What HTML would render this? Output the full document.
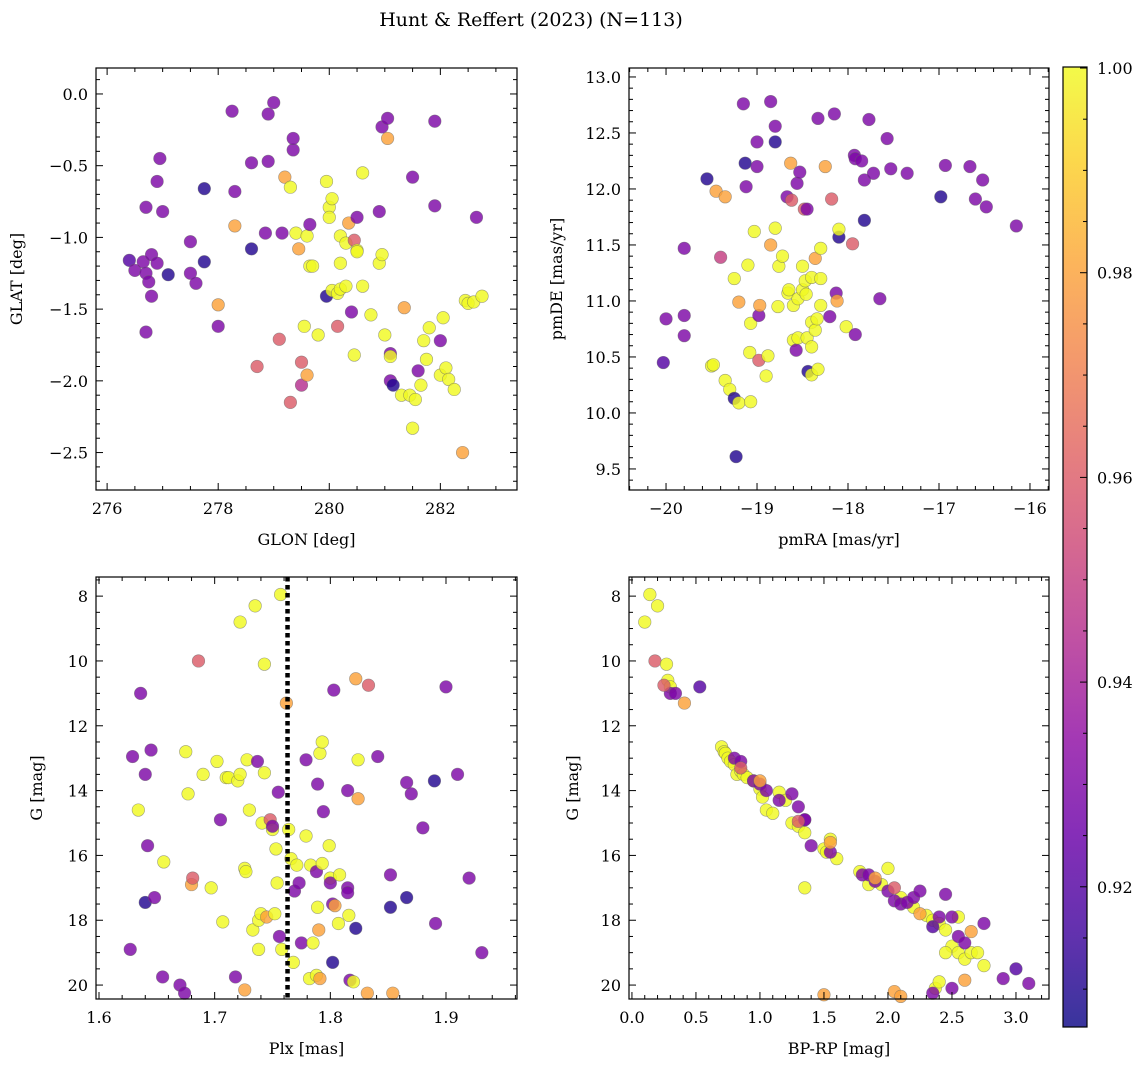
<!DOCTYPE html>
<html><head><meta charset="utf-8">
<style>
html,body{margin:0;padding:0;background:#fff;}
svg text{font-family:"DejaVu Serif","Liberation Serif",serif;fill:#000;}
</style></head>
<body>
<svg id="fig" width="1148" height="1067" viewBox="0 0 1148 1067" xmlns="http://www.w3.org/2000/svg">
<defs>
<linearGradient id="plasma" x1="0" y1="1" x2="0" y2="0">
<stop offset="0" stop-color="#0d0887"/><stop offset="0.1" stop-color="#41049d"/><stop offset="0.2" stop-color="#6a00a8"/><stop offset="0.3" stop-color="#8f0da4"/><stop offset="0.4" stop-color="#b12a90"/><stop offset="0.5" stop-color="#cc4778"/><stop offset="0.6" stop-color="#e16462"/><stop offset="0.7" stop-color="#f2844b"/><stop offset="0.8" stop-color="#fca636"/><stop offset="0.9" stop-color="#fcce25"/><stop offset="1" stop-color="#f0f921"/>
</linearGradient>
</defs>
<text x="531" y="26" font-size="19" text-anchor="middle">Hunt &amp; Reffert (2023) (N=113)</text>
</svg>
<script>
// ---- data ----
const glon=[276.4,276.5,276.65,276.7,276.7,276.75,276.8,276.7,276.8,276.9,276.9,276.95,277.0,277.1,277.5,277.5,277.6,277.75,277.75,278.0,278.0,278.25,278.3,278.3,278.6,278.6,278.7,278.9,278.85,278.9,279.0,279.1,279.2,279.15,279.3,279.3,279.35,279.35,279.4,279.45,279.5,279.5,279.55,279.6,279.6,279.65,279.65,279.7,279.8,279.95,280.0,280.05,279.95,280.05,280.0,280.15,280.2,280.15,280.3,280.2,280.3,280.2,280.35,280.4,280.45,280.5,280.45,280.5,280.5,280.6,280.6,280.75,280.9,280.9,280.95,280.95,281.05,281.05,281.0,281.1,281.1,281.1,281.15,281.3,281.35,281.45,281.5,281.5,281.55,281.6,281.65,281.7,281.8,281.75,281.9,281.9,282.0,282.0,282.05,282.1,282.15,282.25,282.4,282.45,282.5,282.6,282.65,282.75];
const glat=[-1.16,-1.23,-1.17,-0.79,-1.25,-1.31,-1.41,-1.66,-1.12,-1.18,-0.61,-0.45,-0.82,-1.26,-1.03,-1.25,-1.32,-1.17,-0.66,-1.47,-1.62,-0.12,-0.68,-0.92,-0.48,-1.08,-1.90,-0.47,-0.97,-0.14,-0.06,-1.71,-0.58,-0.97,-0.65,-2.15,-0.39,-0.31,-0.97,-1.08,-2.03,-1.87,-1.62,-0.99,-1.96,-1.20,-0.91,-1.20,-1.68,-0.61,-0.79,-0.73,-1.41,-1.37,-0.86,-1.39,-1.36,-1.62,-1.34,-0.99,-1.04,-1.18,-0.90,-1.52,-1.02,-1.09,-1.82,-0.86,-1.10,-0.55,-1.34,-1.54,-1.18,-0.82,-1.12,-0.23,-0.17,-0.31,-1.68,-1.81,-1.83,-2.00,-2.03,-2.10,-1.49,-2.10,-0.58,-2.33,-2.13,-1.93,-2.03,-1.72,-1.63,-1.85,-0.78,-0.19,-1.96,-1.72,-1.56,-1.91,-1.99,-2.06,-2.50,-1.44,-1.46,-1.45,-0.86,-1.41];
const probA=[0.92,0.93,0.93,0.93,0.93,0.93,0.93,0.93,0.93,0.93,0.93,0.93,0.93,0.91,0.93,0.93,0.93,0.91,0.91,0.98,0.93,0.93,0.93,0.98,0.93,0.91,0.96,0.93,0.93,0.93,0.93,0.96,0.98,0.93,1,0.96,0.93,0.93,1,0.98,0.945,0.96,1,1,0.98,1,0.93,1,1,1,1,1,0.91,1,1,1,1,0.96,1,1,1,1,0.98,0.93,0.96,1,1,0.93,1,1,1,1,1,0.93,1,0.93,0.93,0.98,1,0.93,1,0.93,0.91,1,0.98,1,0.93,1,1,0.93,1,1,1,1,0.93,0.93,1,0.93,1,1,1,1,0.98,1,1,1,0.93,1];

const pmra=[-20.03,-20.0,-19.8,-19.8,-19.8,-19.55,-19.45,-19.4,-19.35,-19.5,-19.48,-19.35,-19.3,-19.25,-19.25,-19.2,-19.23,-19.2,-19.15,-19.13,-19.12,-19.1,-19.07,-19.08,-19.07,-19.03,-19.0,-19.0,-18.98,-18.98,-18.97,-18.9,-18.88,-18.85,-18.85,-18.8,-18.8,-18.8,-18.77,-18.76,-18.72,-18.67,-18.66,-18.65,-18.63,-18.62,-18.6,-18.6,-18.57,-18.56,-18.55,-18.55,-18.53,-18.5,-18.5,-18.48,-18.47,-18.45,-18.45,-18.46,-18.4,-18.4,-18.4,-18.44,-18.4,-18.36,-18.36,-18.34,-18.33,-18.33,-18.3,-18.3,-18.3,-18.25,-18.2,-18.18,-18.15,-18.13,-18.12,-18.1,-18.1,-18.02,-17.95,-17.93,-17.92,-17.92,-17.85,-17.82,-17.82,-17.77,-17.72,-17.65,-17.57,-17.53,-17.35,-16.98,-16.93,-16.66,-16.6,-16.52,-16.48,-16.15];
const pmde=[10.45,10.84,10.69,11.47,10.87,12.09,11.98,11.39,11.93,10.42,10.43,10.29,10.21,11.2,10.13,10.99,9.61,10.09,12.76,12.23,12.02,11.32,10.8,10.54,10.1,11.62,12.42,12.2,10.47,10.87,10.96,10.33,10.51,12.78,11.5,12.42,11.65,12.56,10.95,11.31,11.4,11.93,11.07,11.1,12.23,11.9,10.65,10.96,10.56,12.05,10.67,11.02,12.15,11.31,11.1,11.82,11.18,11.82,10.67,11.06,11.21,10.81,10.59,10.37,10.34,10.74,11.38,10.84,10.39,12.63,11.47,11.2,10.96,12.2,10.86,11.91,12.67,11.07,11.0,11.57,11.64,10.77,11.51,12.3,12.27,10.7,12.25,12.08,11.72,12.62,12.14,11.02,12.45,12.18,12.14,11.93,12.21,12.2,11.91,12.08,11.84,11.67];
const probB=[0.92,0.93,0.93,0.93,0.93,0.91,0.98,0.95,0.98,1,1,1,1,1,0.91,0.98,0.91,1,0.93,0.91,0.93,1,1,1,1,1,0.93,0.93,0.96,0.93,0.98,1,1,0.93,0.98,0.91,1,0.93,1,1,1,0.93,1,1,0.98,0.96,1,1,0.93,0.93,1,1,0.93,1,1,0.96,1,0.93,1,1,1,1,1,0.91,1,1,0.98,1,1,0.93,1,1,1,0.98,0.93,0.96,0.93,0.93,0.98,0.91,1,1,0.96,0.93,0.93,0.93,0.93,0.93,0.91,0.93,0.93,0.93,0.93,0.93,0.93,0.91,0.93,0.93,0.93,0.93,0.93,0.93];

const plx=[1.627,1.629,1.636,1.634,1.640,1.642,1.645,1.640,1.648,1.655,1.656,1.670,1.674,1.675,1.677,1.680,1.681,1.686,1.690,1.697,1.702,1.705,1.707,1.710,1.712,1.718,1.720,1.722,1.722,1.726,1.726,1.727,1.728,1.730,1.733,1.735,1.737,1.738,1.738,1.740,1.741,1.743,1.743,1.745,1.748,1.750,1.750,1.752,1.753,1.754,1.755,1.756,1.757,1.758,1.762,1.764,1.766,1.768,1.769,1.771,1.773,1.775,1.779,1.779,1.782,1.783,1.785,1.788,1.788,1.789,1.789,1.791,1.790,1.791,1.793,1.793,1.794,1.799,1.800,1.800,1.802,1.802,1.803,1.804,1.807,1.808,1.815,1.815,1.815,1.816,1.817,1.820,1.822,1.822,1.824,1.824,1.833,1.832,1.841,1.852,1.852,1.854,1.866,1.866,1.870,1.880,1.890,1.891,1.900,1.910,1.920,1.931];
const gmagC=[18.9,12.95,11.0,14.6,13.5,15.7,12.75,17.45,17.3,19.75,16.2,20.0,20.25,12.8,14.1,16.9,16.7,10.0,13.5,17.0,13.1,14.9,18.05,13.6,13.6,19.75,13.7,13.5,8.8,20.15,16.4,16.5,13.05,14.6,18.3,8.3,13.1,18.9,18.0,17.8,15.0,10.1,13.45,17.9,14.9,15.2,15.1,17.8,15.8,16.85,14.05,18.5,7.95,18.9,11.3,15.2,16.1,19.3,17.1,16.3,16.85,18.7,13.05,15.4,19.8,16.3,18.7,19.7,16.5,17.6,13.8,19.8,18.3,12.85,12.5,16.25,14.65,15.7,16.7,16.85,19.3,17.5,10.9,17.55,18.1,16.6,14.0,17.0,17.15,17.85,19.85,19.9,18.25,10.55,13.05,14.25,10.75,20.25,12.95,17.6,16.6,20.25,13.75,17.3,14.1,15.15,13.7,18.1,10.8,13.5,16.7,19.0];
const probC=[0.93,0.93,0.93,1,0.93,0.93,0.93,0.91,0.93,0.93,1,0.93,0.93,1,1,0.98,0.96,0.96,1,1,1,0.93,1,1,1,0.93,1,1,1,0.98,1,1,1,1,1,1,0.93,1,1,1,1,1,1,0.98,0.96,1,0.93,1,1,1,0.93,0.93,1,1,0.98,1,1,1,0.93,1,0.93,0.93,0.93,1,1,1,1,1,0.93,1,0.93,0.98,0.98,1,1,1,0.93,1,1,0.93,0.91,0.93,0.93,0.98,1,1,0.93,0.93,0.93,1,0.93,1,0.91,0.98,1,0.98,0.96,0.98,0.93,0.91,0.93,0.98,0.93,0.91,0.93,0.93,0.91,0.93,0.93,0.93,0.93,0.93];

const bprp=[0.1,0.14,0.2,0.18,0.27,0.28,0.3,0.3,0.34,0.41,0.53,0.7,0.72,0.73,0.75,0.77,0.8,0.82,0.85,0.87,0.9,0.95,1.0,1.02,1.05,1.1,1.15,1.2,1.25,1.3,1.35,1.5,1.52,1.55,1.6,1.78,1.85,1.95,2.0,2.1,2.2,2.3,2.35,2.4,2.45,2.5,2.55,2.6,2.65,2.7,2.75,2.55,2.45,1.35,2.6,2.37,2.4,0.8,0.85,0.95,1.0,1.05,1.15,1.25,1.3,1.35,1.4,1.55,1.8,1.9,2.0,2.05,2.1,2.15,2.2,2.25,2.35,2.45,2.5,2.55,2.6,2.75,2.9,3.0,3.1,2.35,2.5,1.35,1.85,2.4,1.55,1.5,2.05,2.1,1.0,2.25,1.9,2.65,1.3,2.05,0.85,0.25];
const gmagD=[8.8,7.95,8.3,10.0,10.1,10.6,10.8,11.0,11.0,11.3,10.8,12.65,12.8,12.85,13.0,13.1,13.2,13.5,13.4,13.5,13.6,13.7,13.95,14.2,14.6,14.7,14.05,14.3,15.0,15.1,15.3,15.8,15.9,15.5,16.1,16.5,16.9,16.9,16.4,17.3,17.6,17.85,18.0,18.1,18.3,18.8,19.0,19.2,19.0,19.0,19.4,17.9,19.0,17.0,19.85,20.1,19.9,13.0,13.1,13.7,13.8,14.0,14.3,14.1,14.5,14.9,15.7,15.9,16.6,16.8,17.1,17.4,17.5,17.45,17.3,17.1,18.2,17.2,17.9,18.5,18.7,18.1,19.8,19.5,19.95,20.25,20.1,14.9,16.6,17.9,15.6,20.3,20.2,20.35,13.7,17.8,16.7,18.35,14.95,17.0,13.3,10.75];
const probD=[1,1,1,0.96,1,1,1,0.93,0.93,0.98,0.92,1,1,1,1,1,1,1,1,1,1,1,1,1,1,1,1,1,1,1,1,1,1,1,1,1,1,1,1,1,1,1,1,1,1,1,1,1,1,1,1,1,1,1,0.98,1,1,0.93,0.93,0.93,0.93,0.93,0.93,0.93,0.93,0.93,0.93,0.93,0.93,0.93,0.93,0.93,0.93,0.93,0.93,0.93,0.92,0.93,0.93,0.93,0.93,0.93,0.93,0.92,0.93,0.93,0.93,0.93,0.93,0.93,0.98,0.98,0.98,0.98,0.98,0.98,0.98,0.98,0.96,0.96,0.96,0.96];

// colour scale
const cMin=0.9063, cMax=1.0001;
const stops=["#0d0887","#41049d","#6a00a8","#8f0da4","#b12a90","#cc4778","#e16462","#f2844b","#fca636","#fcce25","#f0f921"];
function hex(h){return [1,3,5].map(i=>parseInt(h.substr(i,2),16));}
function plasma(v){
  let t=Math.max(0,Math.min(1,(v-cMin)/(cMax-cMin)))*10;
  const i=Math.min(9,Math.floor(t)),f=t-i;
  const a=hex(stops[i]),b=hex(stops[i+1]);
  return "rgb("+a.map((c,k)=>Math.round(c+(b[k]-c)*f)).join(",")+")";
}
const NS="http://www.w3.org/2000/svg";
const svg=document.getElementById("fig");
function mk(tag,attrs,parent){const e=document.createElementNS(NS,tag);for(const k in attrs)e.setAttribute(k,attrs[k]);(parent||svg).appendChild(e);return e;}
function fmt(v,d){return (v<0?"\u2212":"")+Math.abs(v).toFixed(d);}

function panel(o){
  const g=mk("g",{});
  
  
  const sx=v=>o.l+(v-o.x0)/(o.x1-o.x0)*(o.r-o.l);
  const sy=v=>o.b-(v-o.y0)/(o.y1-o.y0)*(o.b-o.t);
  // points
  const pg=mk("g",{},g);
  
  
  for(let i=0;i<o.xs.length;i++){
    const c=mk("circle",{cx:sx(o.xs[i]),cy:sy(o.ys[i]),r:6.3,fill:plasma(o.ps[i]),"fill-opacity":0.82,stroke:"#666","stroke-opacity":0.6,"stroke-width":0.6},pg);
    
    
  }
  if(o.extra) o.extra(g,sx,sy);
  // frame
  const fr=mk("rect",{x:o.l,y:o.t,width:o.r-o.l,height:o.b-o.t,fill:"none",stroke:"#000","stroke-width":1.2},g);
  
  
  // x ticks
  const lo=Math.min(o.x0,o.x1),hi=Math.max(o.x0,o.x1);
  for(let v=Math.ceil(lo/o.xm-1e-6)*o.xm;v<=hi+1e-9;v+=o.xm){
    const x=sx(v);const maj=Math.abs(v/o.xM-Math.round(v/o.xM))<1e-4;const L=maj?7:4;
    mk("line",{x1:x,y1:o.b,x2:x,y2:o.b-L,stroke:"#000","stroke-width":1},g);
    mk("line",{x1:x,y1:o.t,x2:x,y2:o.t+L,stroke:"#000","stroke-width":1},g);
    if(maj){const t=mk("text",{x:x,y:o.b+24,"font-size":16,"text-anchor":"middle"},g);t.textContent=fmt(v,o.xd);
      }
  }
  const ylo=Math.min(o.y0,o.y1),yhi=Math.max(o.y0,o.y1);
  for(let v=Math.ceil(ylo/o.ym-1e-6)*o.ym;v<=yhi+1e-9;v+=o.ym){
    const y=sy(v);const maj=Math.abs(v/o.yM-Math.round(v/o.yM))<1e-4;const L=maj?7:4;
    mk("line",{x1:o.l,y1:y,x2:o.l+L,y2:y,stroke:"#000","stroke-width":1},g);
    mk("line",{x1:o.r,y1:y,x2:o.r-L,y2:y,stroke:"#000","stroke-width":1},g);
    if(maj){const t=mk("text",{x:o.l-8,y:y+6,"font-size":16,"text-anchor":"end"},g);t.textContent=fmt(v,o.yd);
      }
  }
  const xl=mk("text",{x:(o.l+o.r)/2,y:o.b+55,"font-size":16,"text-anchor":"middle"},g);xl.textContent=o.xlab;
  
  const yc=(o.t+o.b)/2;
  const yl=mk("text",{x:o.ylx,y:yc,"font-size":16,"text-anchor":"middle",transform:"rotate(-90 "+o.ylx+" "+yc+")"},g);yl.textContent=o.ylab;
  
}

panel({name:"glon-glat-panel",l:96,t:68,r:517,b:490,x0:275.8,x1:283.38,y0:-2.761,y1:0.181,xs:glon,ys:glat,ps:probA,xM:2,xm:0.5,xd:0,yM:0.5,ym:0.1,yd:1,xlab:"GLON [deg]",ylab:"GLAT [deg]",ylx:22});
panel({name:"proper-motion-panel",l:629,t:68,r:1049,b:490,x0:-20.407,x1:-15.791,y0:9.312,y1:13.08,xs:pmra,ys:pmde,ps:probB,xM:1,xm:0.2,xd:0,yM:0.5,ym:0.1,yd:1,xlab:"pmRA [mas/yr]",ylab:"pmDE [mas/yr]",ylx:562});
panel({name:"parallax-panel",l:96,t:577,r:517,b:999,x0:1.5974,x1:1.9614,y0:20.43,y1:7.41,xs:plx,ys:gmagC,ps:probC,xM:0.1,xm:0.02,xd:1,yM:2,ym:0.5,yd:0,xlab:"Plx [mas]",ylab:"G [mag]",ylx:42,
  extra:(g,sx,sy)=>{const x=sx(1.763);const l=mk("line",{x1:x,y1:577,x2:x,y2:999,stroke:"#000","stroke-width":4.5,"stroke-dasharray":"4.5,3.5"},g);
    }});
panel({name:"cmd-panel",l:629,t:577,r:1049,b:999,x0:-0.023,x1:3.258,y0:20.43,y1:7.41,xs:bprp,ys:gmagD,ps:probD,xM:0.5,xm:0.1,xd:1,yM:2,ym:0.5,yd:0,xlab:"BP-RP [mag]",ylab:"G [mag]",ylx:578});

// colorbar
const cb=mk("g",{});


mk("rect",{x:1063,y:67,width:24,height:960,fill:"url(#plasma)","fill-opacity":0.82},cb);
mk("rect",{x:1063,y:67,width:24,height:960,fill:"none",stroke:"#000","stroke-width":1.2},cb);
const cy=v=>1027-(v-cMin)/(cMax-cMin)*960;
for(let k=0;k<=19;k++){
  const v=0.905+k*0.005; if(v<cMin||v>cMax)continue;
  const y=cy(v); const maj=(k%4===3);
  mk("line",{x1:1087,y1:y,x2:1087-(maj?7:4),y2:y,stroke:"#000","stroke-width":1},cb);
  if(maj){const t=mk("text",{x:1097,y:y+6,"font-size":16},cb);t.textContent=v.toFixed(2);
    }
}
</script>
</body></html>
